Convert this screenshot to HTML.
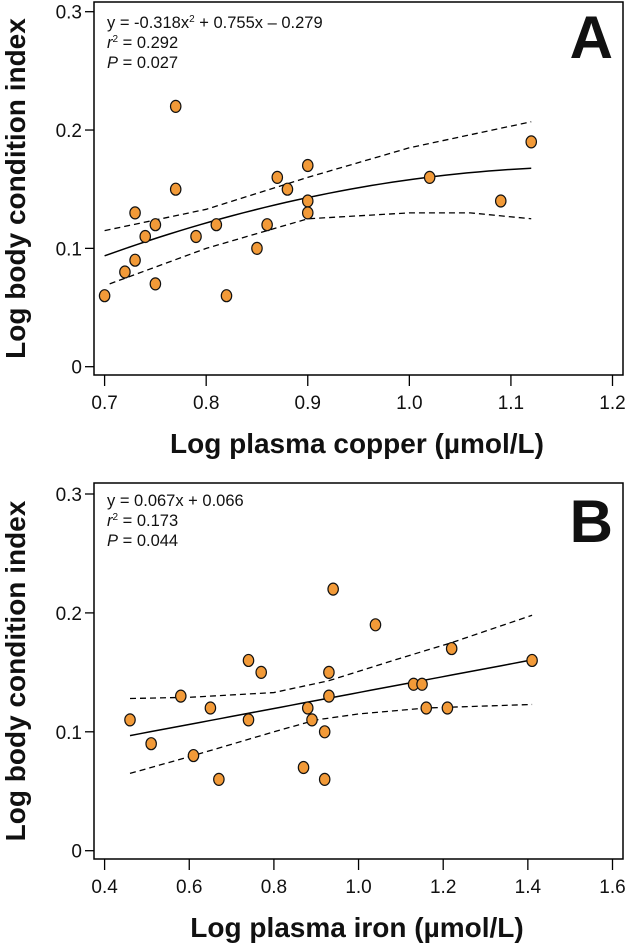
<!DOCTYPE html>
<html><head><meta charset="utf-8">
<style>
html,body{margin:0;padding:0;background:#fff;}
svg{display:block;font-family:"Liberation Sans",Arial,sans-serif;}
</style></head>
<body>
<svg id="fig" width="631" height="946" viewBox="0 0 631 946"></svg>
<script>
// Panel A data
const aX = [0.70,0.72,0.73,0.73,0.74,0.75,0.75,0.77,0.77,0.79,0.81,0.82,0.85,0.86,0.87,0.88,0.90,0.90,0.90,1.02,1.09,1.12];
const aY = [0.06,0.08,0.13,0.09,0.11,0.12,0.07,0.22,0.15,0.11,0.12,0.06,0.10,0.12,0.16,0.15,0.17,0.14,0.13,0.16,0.14,0.19];
const aCoef = [-0.318,0.755,-0.279];
const aUpperX = [0.70,0.80,0.90,1.00,1.12];
const aUpperY = [0.115,0.133,0.160,0.185,0.207];
const aLowerX = [0.705,0.80,0.90,1.00,1.06,1.12];
const aLowerY = [0.070,0.100,0.125,0.130,0.130,0.125];
const aXTicks = [0.7,0.8,0.9,1.0,1.1,1.2];
const aXLabels = ["0.7","0.8","0.9","1.0","1.1","1.2"];
// Panel B data
const bX = [0.46,0.51,0.58,0.61,0.65,0.67,0.74,0.74,0.77,0.87,0.88,0.89,0.92,0.92,0.93,0.93,0.94,1.04,1.13,1.15,1.16,1.21,1.22,1.41];
const bY = [0.11,0.09,0.13,0.08,0.12,0.06,0.16,0.11,0.15,0.07,0.12,0.11,0.10,0.06,0.15,0.13,0.22,0.19,0.14,0.14,0.12,0.12,0.17,0.16];
const bCoef = [0,0.067,0.066];
const bUpperX = [0.46,0.60,0.80,0.93,1.10,1.22,1.41];
const bUpperY = [0.128,0.129,0.133,0.143,0.162,0.175,0.198];
const bLowerX = [0.46,0.60,0.80,0.90,1.00,1.16,1.41];
const bLowerY = [0.065,0.079,0.100,0.110,0.115,0.120,0.123];
const bXTicks = [0.4,0.6,0.8,1.0,1.2,1.4,1.6];
const bXLabels = ["0.4","0.6","0.8","1.0","1.2","1.4","1.6"];
const yTicks = [0,0.1,0.2,0.3];
const yLabels = ["0","0.1","0.2","0.3"];

const NS="http://www.w3.org/2000/svg";
const svg=document.getElementById('fig');
function mk(tag,attrs,parent,text){const e=document.createElementNS(NS,tag);for(const k in attrs)e.setAttribute(k,attrs[k]);if(text!==undefined)e.textContent=text;(parent||svg).appendChild(e);return e;}

function panel(cfg){
  const g=mk('g',{});
  
  
  const sx=v=>cfg.x0px+(v-cfg.xmin)/(cfg.xmax-cfg.xmin)*(cfg.x1px-cfg.x0px);
  const sy=v=>cfg.y0px-(v/0.3)*(cfg.y0px-cfg.y3px);
  const fr=mk('rect',{x:cfg.L,y:cfg.T,width:cfg.R-cfg.L,height:cfg.B-cfg.T,fill:'none',stroke:'#000','stroke-width':1.5},g);
  
  
  cfg.xt.forEach((t,i)=>{
    const x=sx(t);
    const l=mk('line',{x1:x,x2:x,y1:cfg.B,y2:cfg.B+11,stroke:'#000','stroke-width':1.3},g);
    
    
    const tx=mk('text',{x:x,y:cfg.B+34,'font-size':19,'text-anchor':'middle',fill:'#111'},g,cfg.xl[i]);
    
    
  });
  yTicks.forEach((t,i)=>{
    const y=sy(t);
    const l=mk('line',{x1:cfg.L-9,x2:cfg.L,y1:y,y2:y,stroke:'#000','stroke-width':1.3},g);
    
    
    const tx=mk('text',{x:cfg.L-12,y:y+7,'font-size':19,'text-anchor':'end',fill:'#111'},g,yLabels[i]);
    
    
  });
  [[cfg.ux,cfg.uy,'ci-upper'],[cfg.lx,cfg.ly,'ci-lower']].forEach(([xs,ys,n])=>{
    const p=mk('polyline',{points:xs.map((v,i)=>sx(v)+','+sy(ys[i])).join(' '),fill:'none',stroke:'#000','stroke-width':1.3,'stroke-dasharray':'6,4'},g);
    
    
  });
  const pts=[];
  const xa=Math.min(...cfg.px), xb=Math.max(...cfg.px);
  for(let i=0;i<=40;i++){const x=xa+(xb-xa)*i/40;const y=cfg.coef[0]*x*x+cfg.coef[1]*x+cfg.coef[2];pts.push(sx(x)+','+sy(y));}
  const fl=mk('polyline',{points:pts.join(' '),fill:'none',stroke:'#000','stroke-width':1.5},g);
  
  
  cfg.px.forEach((x,i)=>{
    const c=mk('ellipse',{cx:sx(x),cy:sy(cfg.py[i]),rx:5.2,ry:6,fill:'#F29A38',stroke:'#111','stroke-width':1.2},g);
    
    
  });
  cfg.ann.forEach((a,i)=>{
    const t=mk('text',{x:107,y:cfg.T+cfg.annOff+i*20,'font-size':16.5,fill:'#111'},g);
    t.innerHTML=a;
    
    
  });
  const lt=mk('text',{x:613,y:cfg.T+cfg.letterOff,'font-size':60,'font-weight':'bold','text-anchor':'end',fill:'#111'},g,cfg.id);
  
  
  const xt=mk('text',{x:357,y:cfg.B+78,'font-size':28,'font-weight':'bold','text-anchor':'middle',fill:'#111'},g,cfg.xtitle);
  
  
  const yc=(cfg.T+cfg.B)/2;
  const yt=mk('text',{x:0,y:0,'font-size':28,'font-weight':'bold','text-anchor':'middle',fill:'#111',transform:`translate(25,${yc}) rotate(-90)`},g,'Log body condition index');
  
  
}

panel({id:'A',L:94,R:623,T:2,B:375,x0px:104.6,x1px:612.5,xmin:0.7,xmax:1.2,y0px:366.7,y3px:11.7,
  xt:aXTicks,xl:aXLabels,px:aX,py:aY,coef:aCoef,ux:aUpperX,uy:aUpperY,lx:aLowerX,ly:aLowerY,
  ann:['y = -0.318x<tspan dy="-6" font-size="10">2</tspan><tspan dy="6"> + 0.755x – 0.279</tspan>','<tspan font-style="italic">r</tspan><tspan dy="-6" font-size="10">2</tspan><tspan dy="6"> = 0.292</tspan>','<tspan font-style="italic">P</tspan> = 0.027'],
  annOff:26,letterOff:56,xtitle:'Log plasma copper (µmol/L)'});
panel({id:'B',L:94,R:623,T:483,B:859,x0px:104.6,x1px:612.5,xmin:0.4,xmax:1.6,y0px:850.7,y3px:494,
  xt:bXTicks,xl:bXLabels,px:bX,py:bY,coef:bCoef,ux:bUpperX,uy:bUpperY,lx:bLowerX,ly:bLowerY,
  ann:['y = 0.067x + 0.066','<tspan font-style="italic">r</tspan><tspan dy="-6" font-size="10">2</tspan><tspan dy="6"> = 0.173</tspan>','<tspan font-style="italic">P</tspan> = 0.044'],
  annOff:23,letterOff:59,xtitle:'Log plasma iron (µmol/L)'});
</script>
</body></html>
